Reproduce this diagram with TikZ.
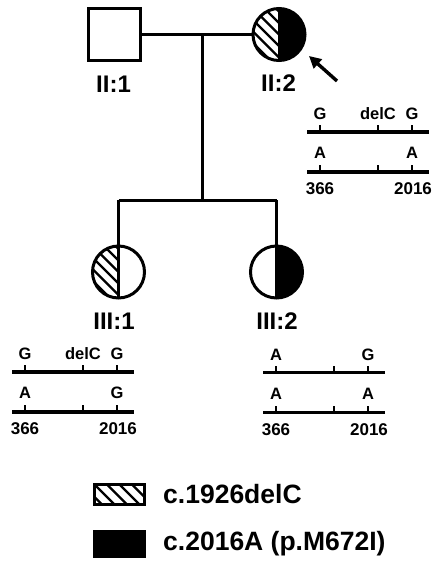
\documentclass[tikz,border=0pt]{standalone}
\usepackage{fontspec}
\setmainfont{Liberation Sans}
\usetikzlibrary{arrows.meta}
\newcommand\hatchleft{%
  \begin{scope}
    \clip (path picture bounding box.north west) rectangle (path picture bounding box.south);
    \foreach \i in {-8,...,8}
      \draw[line width=2.4pt] ([xshift=\i*11.5pt]path picture bounding box.north west) -- ++(70pt,-70pt);
  \end{scope}
  \draw[line width=2.6pt] (path picture bounding box.north) -- (path picture bounding box.south);}
\newcommand\blackright{%
  \fill[black] (path picture bounding box.north) rectangle (path picture bounding box.south east);}
\newcommand\hap[9]{%
  \begin{scope}[shift={(#1,#2)}]
    \draw[hapline] (0,0) -- (122,0);
    \draw[hapline] (0,40) -- (122,40);
    \foreach \t in {13,71,105} {
      \draw[haptick] (\t,0) -- (\t,-7);
      \draw[haptick] (\t,40) -- (\t,33);
    }
    \node[haptext] (#3t1) at (13,-18) {#4};
    \node[haptext] (#3t2) at (71,-18) {#5};
    \node[haptext] (#3t3) at (105,-18) {#6};
    \node[haptext] (#3b1) at (13,21) {#7};
    \node[haptext] (#3b3) at (105,21) {#8};
    \ifx\relax#9\relax\else
    \node[hapnum] (#3n1) at (13,57) {366};
    \node[hapnum] (#3n2) at (106,57) {2016};
    \fi
  \end{scope}}
\begin{document}
\begin{tikzpicture}[x=1pt,y=-1pt,
  lw/.style={line width=3pt},
  male/.style={draw,lw,rectangle,minimum size=52pt,inner sep=0pt},
  female/.style={draw,lw,circle,minimum size=52pt,inner sep=0pt},
  plabel/.style={font=\fontsize{24}{26}\selectfont\bfseries,inner sep=0pt},
  hapline/.style={line width=3.2pt},
  haptick/.style={line width=2.8pt},
  haptext/.style={font=\fontsize{16.5}{18}\selectfont\bfseries,inner sep=0pt},
  hapnum/.style={font=\fontsize{17}{18}\selectfont\bfseries,inner sep=0pt},
  legtext/.style={font=\fontsize{26.5}{28}\selectfont\bfseries,inner sep=0pt,anchor=west},
  conn/.style={lw}]
\useasboundingbox (0,0) rectangle (432,561);
% generation II
\node[male] (m21) at (114,34.5) {};
\node[female,path picture={\hatchleft\blackright}] (f22) at (279,34.5) {};
\draw[conn] (m21.east) -- (f22.west);
\coordinate (mate) at (202,34.5);
\coordinate (sib) at (202,200);
\draw[conn] (mate) -- (sib);
\node[plabel] (l21) at (113.5,84) {II:1};
\node[plabel] (l22) at (278.5,83) {II:2};
% proband arrow
\coordinate (arA) at (337,81);
\coordinate (arB) at (309,56);
\draw[line width=3.4pt,-{Triangle[length=12pt,width=12pt]}] (arA) -- (arB);
% generation III
\node[female,path picture={\hatchleft}] (f31) at (118.5,272) {};
\node[female,path picture={\blackright\draw[line width=2.6pt] (path picture bounding box.north) -- (path picture bounding box.south);}] (f32) at (276.5,272) {};
\coordinate (sibL) at (118.5,200);
\coordinate (sibR) at (276.5,200);
\draw[conn] (sibL) -- (sibR);
\draw[conn] (sibL) -- (f31.north);
\draw[conn] (sibR) -- (f32.north);
\node[plabel] (l31) at (114,321) {III:1};
\node[plabel] (l32) at (277,321) {III:2};
% haplotypes
\hap{307}{132}{hA}{G}{delC}{G}{A}{A}{y}
\hap{12}{372}{hB}{G}{delC}{G}{A}{G}{y}
\hap{263}{372.5}{hC}{A}{}{G}{A}{A}{y}
% legend
\node[draw,lw,rectangle,minimum width=50pt,minimum height=20pt,inner sep=0pt,
  path picture={\foreach \i in {-4,...,6}
      \draw[line width=2.4pt] ([xshift=\i*12.5pt]path picture bounding box.north west) -- ++(30pt,-30pt);}] (legH) at (119,494) {};
\node[draw,lw,fill=black,rectangle,minimum width=50pt,minimum height=25pt,inner sep=0pt] (legB) at (119,543.5) {};
\node[legtext] (legHt) at (163,494) {c.1926delC};
\node[legtext] (legBt) at (163,543.5) {c.2016A (p.M672I)};
\end{tikzpicture}
\end{document}
